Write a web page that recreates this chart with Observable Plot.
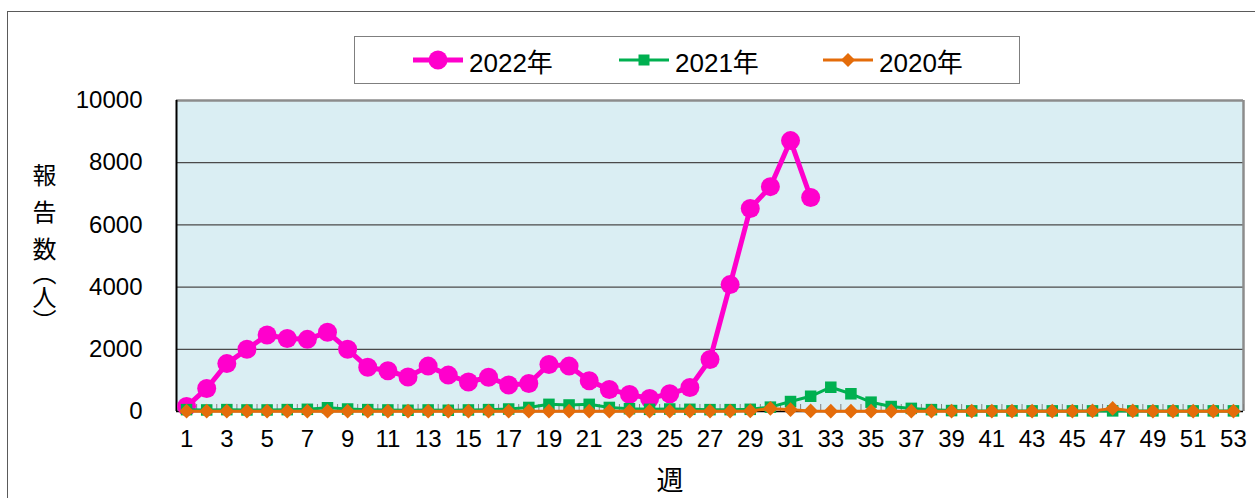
<!DOCTYPE html>
<html>
<head>
<meta charset="utf-8">
<script src="https://cdn.jsdelivr.net/npm/d3@7"></script>
<script src="https://cdn.jsdelivr.net/npm/@observablehq/plot@0.6"></script>
<style>
  html, body { margin: 0; padding: 0; background: #fff; }
  #wrap { position: relative; width: 1255px; height: 498px; overflow: hidden; background: #fff;
          font-family: "Liberation Sans", "Noto Sans CJK JP", sans-serif; }
  #outer { position: absolute; left: 7px; top: 11px; width: 1300px; height: 600px;
           border: 1.5px solid #5a5a5a; box-sizing: border-box; }
  #chart { position: absolute; left: 0; top: 0; }
  #legend { position: absolute; left: 354px; top: 36px; width: 666px; height: 48px;
            border: 1px solid #7f7f7f; box-sizing: border-box; background: #fff; }
  .item { position: absolute; top: 0; height: 46px; display: flex; align-items: center; font-size: 26px; color: #000; }
  .item svg { margin-right: 4px; }
  #ytitle { position: absolute; left: 32px; top: 163px; writing-mode: vertical-rl; font-size: 24px;
            font-family: "Noto Sans CJK JP", sans-serif; color: #000; line-height: 1; }
  #ytitle .sp { letter-spacing: 13px; }
</style>
</head>
<body>
<div id="wrap">
  <div id="outer"></div>
  <div id="chart"></div>
  <div id="legend"></div>
  <div id="ytitle"></div>
</div>
<script>
// ---- data ----
const weeks = [1,2,3,4,5,6,7,8,9,10,11,12,13,14,15,16,17,18,19,20,21,22,23,24,25,26,27,28,29,30,
  31,32,33,34,35,36,37,38,39,40,41,42,43,44,45,46,47,48,49,50,51,52,53];
const cases2022 = [160,740,1540,2000,2460,2350,2320,2550,2000,1420,1310,1110,1460,1170,950,1100,
  850,900,1510,1460,990,710,550,420,570,770,1670,4080,6530,7230,8710,6880];
const cases2021 = [60,50,60,50,50,60,70,120,80,60,50,40,50,40,50,60,80,130,230,210,230,130,90,70,
  80,70,60,60,70,140,320,490,780,570,300,160,100,60,30,20,20,20,20,20,20,20,20,20,20,20,20,20,20];
const cases2020 = [10,10,10,10,10,10,10,10,10,10,10,10,10,10,10,10,10,10,10,10,10,10,10,10,10,10,
  10,10,20,100,60,20,10,10,10,10,10,10,10,10,10,10,10,10,10,20,100,20,10,10,10,10,10];
const seriesNames = ["2022年", "2021年", "2020年"];
const seriesColors = ["#FF00CC", "#00B050", "#E46C0A"];
const yTicks = [0, 2000, 4000, 6000, 8000, 10000];
const xTickLabels = [1,3,5,7,9,11,13,15,17,19,21,23,25,27,29,31,33,35,37,39,41,43,45,47,49,51,53];
const xLabel = "週";
const yLabel = ["報", "告", "数", "（人）"];

// ---- derived tables ----
const rows = (vals) => vals.map((v, i) => ({week: weeks[i], value: v}));
const d2022 = rows(cases2022), d2021 = rows(cases2021), d2020 = rows(cases2020);
const xDomain = [weeks[0] - 0.5, weeks[weeks.length - 1] + 0.5];
const boundaries = weeks.map(w => w + 0.5);
const yMax = yTicks[yTicks.length - 1];

const chart = Plot.plot({
  width: 1255, height: 498,
  marginLeft: 176, marginRight: 12, marginTop: 100, marginBottom: 87,
  style: {fontFamily: '"Liberation Sans", "Noto Sans CJK JP", sans-serif', fontSize: "24px", color: "#000", background: "transparent", overflow: "visible"},
  x: {type: "linear", domain: xDomain},
  y: {type: "linear", domain: [0, yMax]},
  marks: [
    Plot.frame({fill: "#DAEEF3", stroke: "none"}),
    Plot.ruleY(yTicks.filter(v => v > 0 && v < yMax), {stroke: "#4a4a4a", strokeWidth: 1.3}),
    Plot.ruleY([yMax], {stroke: "#8c8c8c", strokeWidth: 2.5}),
    Plot.ruleX([xDomain[1]], {stroke: "#8c8c8c", strokeWidth: 2.5}),
    Plot.tickX(boundaries, {x: d => d, stroke: "#808080", strokeWidth: 1, insetTop: 304}),
    Plot.ruleY([0], {stroke: "#000", strokeWidth: 1.5}),
    Plot.ruleX([xDomain[0]], {stroke: "#000", strokeWidth: 2}),
    Plot.line(d2022, {x: "week", y: "value", stroke: seriesColors[0], strokeWidth: 5}),
    Plot.dot(d2022, {x: "week", y: "value", r: 9.5, fill: seriesColors[0], stroke: "none"}),
    Plot.line(d2021, {x: "week", y: "value", stroke: seriesColors[1], strokeWidth: 3}),
    Plot.dot(d2021, {x: "week", y: "value", symbol: "square", r: 6.5, fill: seriesColors[1], stroke: "none"}),
    Plot.line(d2020, {x: "week", y: "value", stroke: seriesColors[2], strokeWidth: 3}),
    Plot.dot(d2020, {x: "week", y: "value", symbol: "diamond2", r: 6.6, fill: seriesColors[2], stroke: "none"}),
    Plot.axisY({ticks: yTicks, tickSize: 0, tickPadding: 34, label: null, tickFormat: d => String(d), fontSize: 24}),
    Plot.axisX({ticks: xTickLabels, tickSize: 0, tickPadding: 18, label: null, tickFormat: d => String(d), fontSize: 24}),
    Plot.text([xLabel], {text: d => d, frameAnchor: "bottom", dx: -40, dy: 78, fontSize: 27,
      fontFamily: '"Noto Sans CJK JP", sans-serif'})
  ]
});
document.getElementById("chart").appendChild(chart);

// ---- legend ----
const legend = document.getElementById("legend");
const itemLeft = [56, 262, 466];
const symbols = [
  (c) => `<line x1="2" y1="12" x2="52" y2="12" stroke="${c}" stroke-width="5"/><circle cx="27" cy="12" r="9.5" fill="${c}"/>`,
  (c) => `<line x1="2" y1="12" x2="52" y2="12" stroke="${c}" stroke-width="3"/><rect x="21.5" y="6.5" width="11" height="11" fill="${c}"/>`,
  (c) => `<line x1="2" y1="12" x2="52" y2="12" stroke="${c}" stroke-width="3"/><path d="M27 5 L34 12 L27 19 L20 12 Z" fill="${c}"/>`
];
seriesNames.forEach((name, i) => {
  const el = document.createElement("div");
  el.className = "item";
  el.style.left = itemLeft[i] + "px";
  el.innerHTML = `<svg width="54" height="24">${symbols[i](seriesColors[i])}</svg><span>${name}</span>`;
  legend.appendChild(el);
});

// ---- y title ----
const yt = document.getElementById("ytitle");
yLabel.forEach((s, i) => {
  const sp = document.createElement("span");
  if (i < 2) sp.className = "sp";
  sp.textContent = s;
  yt.appendChild(sp);
});
</script>
</body>
</html>
